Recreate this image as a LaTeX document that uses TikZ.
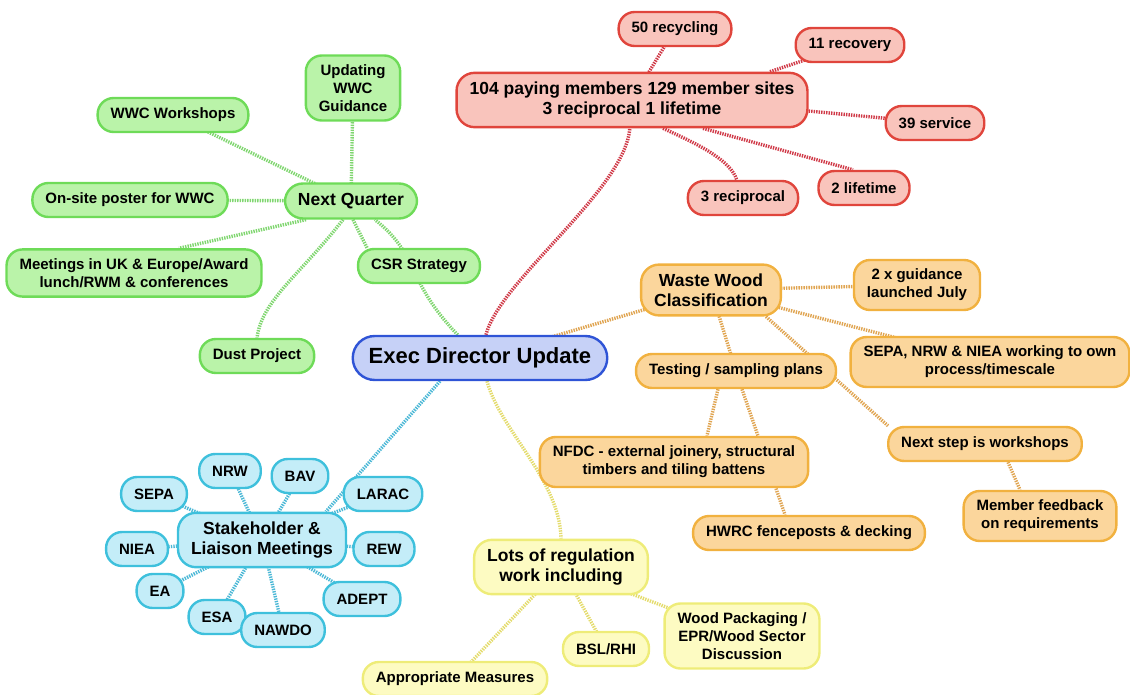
\documentclass[tikz,border=0pt]{standalone}
\usepackage{fontspec}
\setmainfont{Liberation Sans}
\usepackage{xcolor}
\usetikzlibrary{backgrounds}
\definecolor{rootline}{HTML}{2F54D6}
\definecolor{rootfill}{HTML}{C6D1F7}
\definecolor{redline}{HTML}{E0453C}
\definecolor{redfill}{HTML}{F9C4BC}
\definecolor{redlink}{HTML}{D03A48}
\definecolor{greenline}{HTML}{6EDB58}
\definecolor{greenfill}{HTML}{BAF3A9}
\definecolor{greenlink}{HTML}{80D670}
\definecolor{cyanline}{HTML}{3EC0DC}
\definecolor{cyanfill}{HTML}{C4EDF8}
\definecolor{cyanlink}{HTML}{4CB8D6}
\definecolor{orangeline}{HTML}{F1B13F}
\definecolor{orangefill}{HTML}{FBD69C}
\definecolor{orangelink}{HTML}{E0A552}
\definecolor{yellowline}{HTML}{EEEC78}
\definecolor{yellowfill}{HTML}{FDFBC2}
\definecolor{yellowlink}{HTML}{E4DC6E}

\begin{document}
\begin{tikzpicture}[x=1pt, y=-1pt,
  bubble/.style={draw=#1line, fill=#1fill, line width=2.4pt, rounded corners=16pt,
    align=center, inner xsep=13pt, inner ysep=9pt, minimum height=34pt,
    font=\bfseries\fontsize{15}{18}\selectfont},
  topic/.style={bubble=#1, rounded corners=18pt, minimum height=35pt,
    font=\bfseries\fontsize{17.5}{20}\selectfont},
  link/.style={draw=#1link, line width=3.4pt, dash pattern=on 1.4pt off 1.1pt}]
\useasboundingbox (0,0) rectangle (1130,695);
% centre
\node[bubble=root, rounded corners=22pt, minimum height=44pt, inner xsep=16pt,
  font=\bfseries\fontsize{22}{26}\selectfont] (exec) at (480,358) {Exec Director Update};
% members
\node[topic=red] (rmain) at (632,100) {104 paying members 129 member sites\\3 reciprocal 1 lifetime};
\node[bubble=red] (r50) at (675,29) {50 recycling};
\node[bubble=red] (r11) at (850,45) {11 recovery};
\node[bubble=red] (r39) at (935,123) {39 service};
\node[bubble=red] (r2) at (864,188) {2 lifetime};
\node[bubble=red] (r3) at (743,198) {3 reciprocal};
% next quarter
\node[topic=green] (gnq) at (351,201) {Next Quarter};
\node[bubble=green] (gupd) at (353,88) {Updating\\WWC\\Guidance};
\node[bubble=green] (gws) at (173,115) {WWC Workshops};
\node[bubble=green] (gposter) at (130,200) {On-site poster for WWC};
\node[bubble=green] (gmeet) at (134,273) {Meetings in UK \& Europe/Award\\lunch/RWM \& conferences};
\node[bubble=green] (gcsr) at (419,266) {CSR Strategy};
\node[bubble=green] (gdust) at (257,356) {Dust Project};
% stakeholders
\node[topic=cyan] (bmain) at (262,540) {Stakeholder \&\\Liaison Meetings};
\node[bubble=cyan] (bsepa) at (154,494) {SEPA};
\node[bubble=cyan] (bnrw) at (230,471) {NRW};
\node[bubble=cyan] (bbav) at (300,476) {BAV};
\node[bubble=cyan] (blarac) at (383,494) {LARAC};
\node[bubble=cyan] (bniea) at (137,549) {NIEA};
\node[bubble=cyan] (brew) at (384,549) {REW};
\node[bubble=cyan] (bea) at (160,591) {EA};
\node[bubble=cyan] (badept) at (362,599) {ADEPT};
\node[bubble=cyan] (besa) at (217,617) {ESA};
\node[bubble=cyan] (bnawdo) at (283,630) {NAWDO};
% waste wood
\node[topic=orange] (owwc) at (711,290) {Waste Wood\\Classification};
\node[bubble=orange] (o2x) at (917,285) {2 x guidance\\launched July};
\node[bubble=orange] (otest) at (736,371) {Testing / sampling plans};
\node[bubble=orange] (osepa) at (990,362) {SEPA, NRW \& NIEA working to own\\process/timescale};
\node[bubble=orange] (onfdc) at (674,462) {NFDC - external joinery, structural\\timbers and tiling battens};
\node[bubble=orange] (onext) at (985,444) {Next step is workshops};
\node[bubble=orange] (ohwrc) at (809,533) {HWRC fenceposts \& decking};
\node[bubble=orange] (omember) at (1040,516) {Member feedback\\on requirements};
% regulation
\node[topic=yellow] (ylots) at (561,567) {Lots of regulation\\work including};
\node[bubble=yellow] (yappr) at (455,679) {Appropriate Measures};
\node[bubble=yellow] (ybsl) at (606,649) {BSL/RHI};
\node[bubble=yellow] (ywood) at (742,636) {Wood Packaging /\\EPR/Wood Sector\\Discussion};

\begin{scope}[on background layer]
% red links
\draw[link=red] (exec) .. controls (500,280) and (625,190) .. (rmain);
\draw[link=red] (rmain.center) -- (r50.center);
\draw[link=red] ([xshift=138pt]rmain.north) -- (r11.center);
\draw[link=red] ([yshift=-11pt]rmain.east) -- (r39.center);
\draw[link=red] ([xshift=31pt]rmain.south) .. controls (700,145) and (730,160) .. (r3);
\draw[link=red] ([xshift=71pt]rmain.south) -- ([xshift=-11pt]r2.north);
% green links
\draw[link=green] (exec) .. controls (405,280) and (420,255) .. (gnq);
\draw[link=green] ([xshift=2pt]gnq.south) -- ([xshift=-52pt]gcsr.north);
\draw[link=green] (gnq.center) -- (gupd.center);
\draw[link=green] (gnq.center) -- (gws.center);
\draw[link=green] (gnq.center) -- (gposter.center);
\draw[link=green] ([xshift=-45pt]gnq.south) -- ([xshift=45pt]gmeet.north);
\draw[link=green] ([xshift=-8pt]gnq.south) .. controls (300,275) and (262,300) .. (gdust.north);
% cyan links
\draw[link=cyan] ([xshift=-40pt]exec.south) -- ([xshift=64pt]bmain.north);
\foreach \n in {sepa,nrw,bav,larac,niea,rew,ea,adept,esa,nawdo}
  \draw[link=cyan] (bmain.center) -- (b\n.center);
% orange links
\draw[link=orange] (exec.center) -- (owwc.center);
\draw[link=orange] (owwc.center) -- (o2x.center);
\draw[link=orange] (owwc.center) -- (osepa.center);
\draw[link=orange] (owwc.center) -- (otest.center);
\draw[link=orange] ([xshift=55pt]owwc.south) -- ([xshift=-97pt]onext.north);
\draw[link=orange] ([xshift=-18pt]otest.south) -- ([xshift=33pt]onfdc.north);
\draw[link=orange] ([xshift=6pt]otest.south) -- ([xshift=-24pt]ohwrc.north);
\draw[link=orange] ([xshift=23pt]onext.south) -- ([xshift=-20pt]omember.north);
% yellow links
\draw[link=yellow] ([xshift=7pt]exec.south) .. controls (500,430) and (560,480) .. (ylots.north);
\draw[link=yellow] (ylots.center) -- (yappr.center);
\draw[link=yellow] (ylots.center) -- (ybsl.center);
\draw[link=yellow] (ylots.center) -- (ywood.center);
\end{scope}
\end{tikzpicture}
\end{document}
